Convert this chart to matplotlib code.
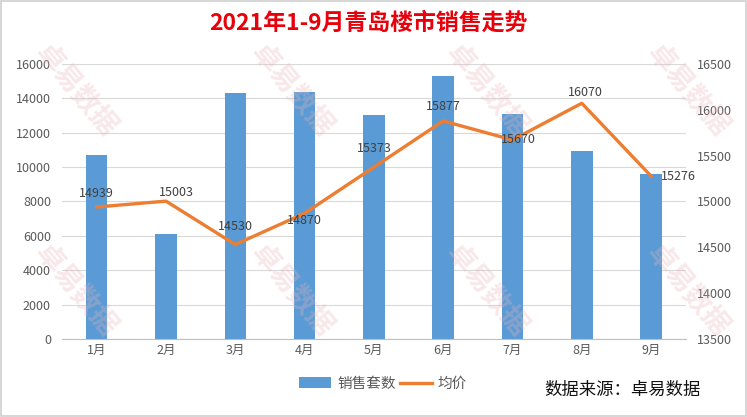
import matplotlib
matplotlib.use('Agg')
import matplotlib.pyplot as plt
from matplotlib.patches import Rectangle

plt.rcParams['font.family'] = ['Noto Sans CJK SC', 'DejaVu Sans']

months = ["1月", "2月", "3月", "4月", "5月", "6月", "7月", "8月", "9月"]
sales = [10700, 6100, 14300, 14380, 13030, 15300, 13090, 10940, 9600]
avg_price = [14939, 15003, 14530, 14870, 15373, 15877, 15670, 16070, 15276]
# label offsets in pixels (as placed in the original chart)
label_off = [(0, 14), (10, 9), (0, 18), (0, -7), (0, 19), (0, 14), (6, 0), (4, 11), (27, 0)]

fig = plt.figure(figsize=(7.47, 4.17), dpi=100)
fig.patches.append(Rectangle((0.002, 0.002), 0.996, 0.996, transform=fig.transFigure,
                             fill=False, edgecolor="#d0d0d0", linewidth=1.2))

# watermarks
for wx in [0.10, 0.39, 0.65, 0.92]:
    for wy in [0.78, 0.30]:
        fig.text(wx, wy, "卓易数据", rotation=-50, fontsize=20, fontweight="bold",
                 color="#e8b4b8", alpha=0.3, ha="center", va="center", zorder=0)

ax = fig.add_axes([0.083, 0.187, 0.835, 0.66])
x = list(range(len(months)))
ax.bar(x, sales, width=0.31, color="#5B9BD5", zorder=2, label="销售套数")
ax.set_ylim(0, 16000)
ax.set_yticks(range(0, 16001, 2000))
ax.set_xlim(-0.5, 8.5)
ax.set_xticks(x)
ax.set_xticklabels(months)
ax.grid(axis="y", color="#d9d9d9", linewidth=0.8, zorder=0)
ax.set_axisbelow(True)
for s in ["top", "right", "left"]:
    ax.spines[s].set_visible(False)
ax.spines["bottom"].set_color("#bfbfbf")
ax.tick_params(axis="both", colors="#595959", labelsize=9, length=0)
ax.tick_params(axis="y", pad=8)
ax.patch.set_alpha(0)

ax2 = ax.twinx()
ax2.plot(x, avg_price, color="#ED7D31", linewidth=2.4, zorder=3, label="均价")
ax2.set_ylim(13500, 16500)
ax2.set_yticks(range(13500, 16501, 500))
for s in ["top", "right", "left", "bottom"]:
    ax2.spines[s].set_visible(False)
ax2.tick_params(axis="y", colors="#595959", labelsize=9, length=0, pad=8)
for xi, v, (dx, dy) in zip(x, avg_price, label_off):
    ax2.annotate(str(v), (xi, v), xytext=(dx, dy), textcoords="offset pixels",
                 ha="center", va="center", fontsize=9, color="#404040")

fig.text(0.493, 0.945, "2021年1-9月青岛楼市销售走势", ha="center", va="center",
         fontsize=16.5, fontweight="bold", color="#e8000b")

h1, l1 = ax.get_legend_handles_labels()
h2, l2 = ax2.get_legend_handles_labels()
fig.legend(h1 + h2, l1 + l2, loc="center", bbox_to_anchor=(0.513, 0.08), ncol=2,
           frameon=False, fontsize=10.5, labelcolor="#595959", handlelength=2.2,
           columnspacing=0.3, handletextpad=0.4)
fig.text(0.834, 0.065, "数据来源：卓易数据", ha="center", va="center", fontsize=12.5, color="#111111")

fig.savefig("out.png", dpi=100)
